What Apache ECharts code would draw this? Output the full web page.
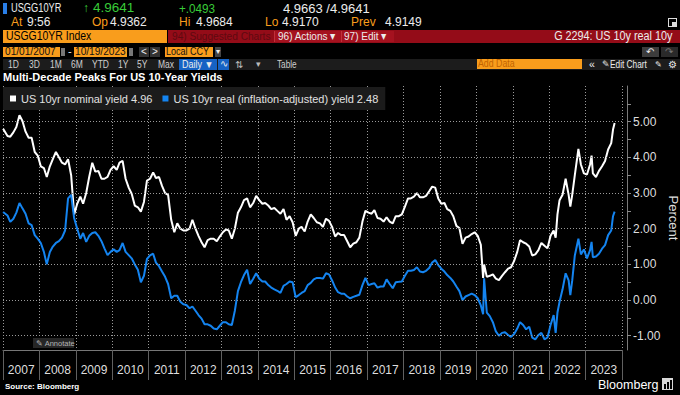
<!DOCTYPE html>
<html><head><meta charset="utf-8">
<script src="https://cdn.jsdelivr.net/npm/echarts@6/dist/echarts.min.js"></script>
<style>
html,body{margin:0;padding:0;background:#000;width:680px;height:395px;overflow:hidden;}
#chart{position:absolute;left:0;top:0;width:680px;height:395px;}
#hdr{position:absolute;left:0;top:0;width:680px;height:395px;pointer-events:none;}
</style></head><body>
<div id="chart"></div>
<div id="hdr"></div>
<script>
// ---------------- DATA ----------------
const dates = [
 '2007-01-02','2007-02-15','2007-03-15','2007-04-15','2007-05-15','2007-06-15','2007-07-15','2007-08-15','2007-09-15','2007-10-15','2007-11-15','2007-12-15',
 '2008-01-15','2008-02-15','2008-03-15','2008-04-15','2008-05-15','2008-06-15','2008-07-15','2008-08-15','2008-09-15','2008-10-15','2008-11-15','2008-12-15',
 '2009-01-15','2009-02-15','2009-03-15','2009-04-15','2009-05-15','2009-06-15','2009-07-15','2009-08-15','2009-09-15','2009-10-15','2009-11-15','2009-12-15',
 '2010-01-15','2010-02-15','2010-03-15','2010-04-15','2010-05-15','2010-06-15','2010-07-15','2010-08-15','2010-09-15','2010-10-15','2010-11-15','2010-12-15',
 '2011-01-15','2011-02-15','2011-03-15','2011-04-15','2011-05-15','2011-06-15','2011-07-15','2011-08-15','2011-09-15','2011-10-15','2011-11-15','2011-12-15',
 '2012-01-15','2012-02-15','2012-03-15','2012-04-15','2012-05-15','2012-06-15','2012-07-15','2012-08-15','2012-09-15','2012-10-15','2012-11-15','2012-12-15',
 '2013-01-15','2013-02-15','2013-03-15','2013-04-15','2013-05-15','2013-06-15','2013-07-15','2013-08-15','2013-09-15','2013-10-15','2013-11-15','2013-12-15',
 '2014-01-15','2014-02-15','2014-03-15','2014-04-15','2014-05-15','2014-06-15','2014-07-15','2014-08-15','2014-09-15','2014-10-15','2014-11-15','2014-12-15',
 '2015-01-15','2015-02-15','2015-03-15','2015-04-15','2015-05-15','2015-06-15','2015-07-15','2015-08-15','2015-09-15','2015-10-15','2015-11-15','2015-12-15',
 '2016-01-15','2016-02-15','2016-03-15','2016-04-15','2016-05-15','2016-06-15','2016-07-15','2016-08-15','2016-09-15','2016-10-15','2016-11-15','2016-12-15',
 '2017-01-15','2017-02-15','2017-03-15','2017-04-15','2017-05-15','2017-06-15','2017-07-15','2017-08-15','2017-09-15','2017-10-15','2017-11-15','2017-12-15',
 '2018-01-15','2018-02-15','2018-03-15','2018-04-15','2018-05-15','2018-06-15','2018-07-15','2018-08-15','2018-09-15','2018-10-15','2018-11-15','2018-12-15',
 '2019-01-15','2019-02-15','2019-03-15','2019-04-15','2019-05-15','2019-06-15','2019-07-15','2019-08-15','2019-09-15','2019-10-15','2019-11-15','2019-12-15',
 '2020-01-15','2020-02-15','2020-03-09','2020-03-19','2020-04-15','2020-05-15','2020-06-15','2020-07-15','2020-08-15','2020-09-15','2020-10-15','2020-11-15','2020-12-15',
 '2021-01-15','2021-02-15','2021-03-15','2021-04-15','2021-05-15','2021-06-15','2021-07-15','2021-08-15','2021-09-15','2021-10-15','2021-11-15','2021-12-15',
 '2022-01-15','2022-02-15','2022-03-07','2022-03-25','2022-04-15','2022-05-15','2022-06-15','2022-07-15','2022-08-01','2022-08-20','2022-09-15','2022-10-21','2022-11-15','2022-12-15',
 '2023-01-15','2023-02-15','2023-03-02','2023-03-15','2023-04-15','2023-05-15','2023-06-15','2023-07-15','2023-08-15','2023-09-15','2023-10-03','2023-10-19'
];
const nominal = [
 4.80,4.60,4.58,4.70,4.85,5.18,5.02,4.72,4.55,4.55,4.15,4.05,
 3.75,3.70,3.45,3.75,3.95,4.15,4.00,3.85,3.80,3.95,3.50,2.40,
 2.70,2.90,2.70,3.00,3.45,3.85,3.60,3.62,3.40,3.40,3.45,3.65,
 3.75,3.65,3.85,3.90,3.40,3.15,2.98,2.65,2.60,2.48,2.75,3.35,
 3.40,3.58,3.42,3.45,3.20,3.00,2.95,2.25,1.90,2.15,2.00,1.95,
 1.95,2.00,2.25,2.00,1.80,1.62,1.48,1.68,1.72,1.72,1.65,1.78,
 1.90,1.98,1.95,1.72,2.00,2.45,2.60,2.80,2.85,2.60,2.72,2.92,
 2.80,2.70,2.72,2.65,2.55,2.58,2.50,2.42,2.55,2.25,2.35,2.18,
 1.80,2.00,2.05,1.92,2.20,2.40,2.30,2.18,2.15,2.05,2.28,2.22,
 2.05,1.78,1.88,1.82,1.82,1.65,1.48,1.58,1.62,1.75,2.20,2.50,
 2.45,2.42,2.52,2.30,2.28,2.20,2.32,2.20,2.15,2.35,2.35,2.40,
 2.62,2.85,2.85,2.90,3.00,2.88,2.88,2.92,3.05,3.18,3.15,2.85,
 2.70,2.72,2.55,2.50,2.35,2.08,2.02,1.58,1.75,1.78,1.85,1.90,
 1.80,1.55,0.62,1.00,0.65,0.68,0.72,0.60,0.56,0.68,0.78,0.88,0.92,
 1.10,1.35,1.68,1.62,1.58,1.50,1.25,1.28,1.40,1.60,1.52,1.45,
 1.80,1.95,1.75,2.40,2.80,2.95,3.40,2.95,2.62,2.95,3.50,4.24,3.80,3.55,
 3.52,3.80,4.05,3.55,3.45,3.62,3.75,3.90,4.22,4.40,4.78,4.96
];
const real = [
 2.47,2.37,2.19,2.28,2.45,2.72,2.57,2.42,2.15,2.10,1.82,1.72,
 1.60,1.35,1.00,1.35,1.50,1.60,1.65,1.75,1.95,2.85,2.95,2.30,
 2.00,1.72,1.88,1.63,1.80,1.88,1.90,1.80,1.65,1.45,1.26,1.35,
 1.42,1.35,1.40,1.60,1.35,1.26,1.17,1.00,0.85,0.50,0.68,1.15,
 1.25,1.30,1.05,0.95,0.80,0.65,0.45,0.05,0.12,0.12,-0.05,-0.12,
 -0.14,-0.23,-0.18,-0.30,-0.42,-0.52,-0.68,-0.68,-0.72,-0.80,-0.82,-0.72,
 -0.62,-0.62,-0.68,-0.70,-0.30,0.25,0.50,0.70,0.85,0.45,0.60,0.75,
 0.60,0.52,0.52,0.42,0.35,0.30,0.26,0.20,0.40,0.45,0.52,0.50,
 0.08,0.14,0.20,0.25,0.42,0.48,0.58,0.62,0.62,0.60,0.75,0.72,
 0.55,0.35,0.22,0.18,0.18,0.10,0.05,0.09,0.12,0.15,0.42,0.62,
 0.42,0.45,0.47,0.35,0.38,0.38,0.58,0.45,0.33,0.50,0.51,0.52,
 0.68,0.82,0.82,0.84,0.92,0.80,0.78,0.82,0.90,1.05,1.12,0.98,
 0.88,0.80,0.70,0.62,0.52,0.38,0.25,0.00,0.10,0.14,0.18,0.14,
 0.05,-0.15,-0.40,0.61,-0.35,-0.45,-0.62,-0.88,-1.00,-0.92,-0.90,-0.98,-1.03,
 -0.95,-0.80,-0.62,-0.70,-0.82,-0.75,-1.05,-1.10,-0.98,-0.92,-1.10,-1.05,
 -0.70,-0.42,-0.92,-0.35,-0.05,0.30,0.75,0.55,0.14,0.55,1.25,1.72,1.28,1.42,
 1.17,1.40,1.63,1.20,1.22,1.30,1.44,1.54,1.82,1.95,2.35,2.48
];
const seriesNames = ['US 10yr nominal yield', 'US 10yr real (inflation-adjusted) yield'];
const yearLabels = ['2007','2008','2009','2010','2011','2012','2013','2014','2015','2016','2017','2018','2019','2020','2021','2022','2023'];
const yearBounds = [2007,2008,2009,2010,2011,2012,2013,2014,2015,2016,2017,2018,2019,2020,2021,2022,2023,2024];
const yLabelValues = [-1, 0, 1, 2, 3, 4, 5];
const yTickValues = [-1, -0.5, 0, 0.5, 1, 1.5, 2, 2.5, 3, 3.5, 4, 4.5, 5, 5.5];

// ---------------- CHART ----------------
const REG = '"Liberation Sans", Arial, sans-serif';
function toYear(s){
  const p = s.split('-').map(Number);
  const t0 = Date.UTC(p[0],0,1), t1 = Date.UTC(p[0]+1,0,1);
  return p[0] + (Date.UTC(p[0],p[1]-1,p[2]) - t0) / (t1 - t0);
}
const xs = dates.map(toYear);
const lastVals = [nominal[nominal.length-1], real[real.length-1]];
const GRID_COLOR = '#9a9a9a';

const chart = echarts.init(document.getElementById('chart'), null, {renderer:'svg', width:680, height:395});
chart.setOption({
  animation: false,
  backgroundColor: '#000',
  grid: {left: 3, right: 58, top: 86, bottom: 45, containLabel: false, outerBoundsMode: 'none', show: false},
  legend: {
    left: 3, top: 87,
    data: seriesNames,
    backgroundColor: '#1b1b1b',
    padding: [6, 7, 6, 7],
    itemGap: 10, itemWidth: 6, itemHeight: 6, icon: 'rect',
    textStyle: {color: '#e2e2e2', fontSize: 11, fontFamily: REG},
    formatter: function(name){ return name + ' ' + lastVals[seriesNames.indexOf(name)].toFixed(2); },
    selectedMode: false
  },
  xAxis: {
    type: 'value', min: 2007, max: 2024, interval: 1,
    axisLine: {show: true, onZero: false, lineStyle: {color: '#777777', width: 1}},
    axisTick: {show: true, length: 30, customValues: yearBounds, lineStyle: {color: '#606060', width: 1}},
    splitLine: {show: true, lineStyle: {color: GRID_COLOR, type: [1, 2], width: 1}},
    axisLabel: {
      customValues: yearLabels.map(function(y){ return Number(y) + 0.5; }),
      formatter: function(v){ return String(Math.floor(v)); },
      color: '#dedede', fontSize: 12, fontFamily: REG, margin: 14
    }
  },
  yAxis: {
    type: 'value', position: 'right', offset: 5, min: -1.4, max: 6.0,
    axisLine: {show: true, onZero: false, lineStyle: {color: '#7a7a7a'}},
    axisTick: {show: true, customValues: yTickValues, length: 4, lineStyle: {color: '#8a8a8a'}},
    axisLabel: {customValues: yLabelValues, formatter: function(v){ return v.toFixed(2); },
      color: '#dedede', fontSize: 12, fontFamily: REG, margin: 6},
    splitLine: {show: false},
    name: 'Percent', nameLocation: 'middle', nameRotate: -90, nameGap: 40, nameMoveOverlap: false,
    nameTextStyle: {color: '#dedede', fontSize: 13, fontFamily: REG}
  },
  series: [
    {
      name: 'gridlines', type: 'line', z: 1, silent: true, showSymbol: false, symbol: 'none',
      lineStyle: {opacity: 0}, tooltip: {show: false},
      data: xs.map(function(x, i){ return [x, nominal[i]]; }),
      markLine: {
        silent: true, symbol: ['none','none'], label: {show: false}, animation: false,
        lineStyle: {color: GRID_COLOR, type: [1, 2], width: 1, opacity: 1},
        emphasis: {disabled: true},
        data: yLabelValues.map(function(v){ return {yAxis: v}; })
      }
    },
    {
      name: seriesNames[0], type: 'line', z: 3, showSymbol: false, symbol: 'none',
      color: '#ffffff', lineStyle: {color: '#ffffff', width: 2},
      data: xs.map(function(x, i){ return [x, nominal[i]]; })
    },
    {
      name: seriesNames[1], type: 'line', z: 3, showSymbol: false, symbol: 'none',
      color: '#1484f0', lineStyle: {color: '#1484f0', width: 2},
      data: xs.map(function(x, i){ return [x, real[i]]; })
    }
  ]
});

// ---------------- TERMINAL CHROME ----------------
const hdr = document.getElementById('hdr');
const ORANGE = '#f99d1c', GREEN = '#38cc38', WHITE = '#ececec';
function R(x, y, w, h, bg, extra){
  const d = document.createElement('div');
  d.style.cssText = 'position:absolute;left:'+x+'px;top:'+y+'px;width:'+w+'px;height:'+h+'px;background:'+bg+';'+(extra||'');
  hdr.appendChild(d); return d;
}
function T(txt, x, cy, size, color, opt){
  opt = opt || {};
  const d = document.createElement('div');
  d.textContent = txt;
  let css = 'position:absolute;top:'+(cy - size*0.6)+'px;font-size:'+size+'px;line-height:'+(size*1.2)+'px;color:'+color+
    ';white-space:nowrap;font-family:'+REG+';font-weight:'+(opt.b?'bold':'normal')+';';
  if (opt.right) css += 'right:'+(680-x)+'px;'; else css += 'left:'+x+'px;';
  if (opt.sx) css += 'transform:scaleX('+opt.sx+');transform-origin:'+(opt.right?'right':'left')+' center;';
  d.style.cssText = css;
  hdr.appendChild(d); return d;
}
// row 1
R(3, 3, 4, 11, '#2a7fe8');
T('USGG10YR', 11, 8.5, 12.5, WHITE, {sx: 0.74});
T('\u2191', 83, 8.5, 12, GREEN);
T('4.9641', 93, 8.5, 13.5, GREEN);
T('+.0493', 179, 8.5, 13, GREEN, {sx: 0.9});
T('4.9663 /4.9641', 283, 8.5, 13, WHITE);
// row 2
T('At', 11, 22.5, 12, ORANGE);
T('9:56', 27, 22.5, 12, WHITE);
T('Op', 92, 22.5, 12, ORANGE);
T('4.9362', 110, 22.5, 12, WHITE);
T('Hi', 179, 22.5, 12, ORANGE);
T('4.9684', 196, 22.5, 12, WHITE);
T('Lo', 265, 22.5, 12, ORANGE);
T('4.9170', 282, 22.5, 12, WHITE);
T('Prev', 351, 22.5, 12, ORANGE);
T('4.9149', 385, 22.5, 12, WHITE);
R(668, 18, 7, 7, 'transparent', 'border:1px solid #ddd;');
R(672, 22, 5, 5, '#ddd');
// row 3
R(3, 30, 164, 13, ORANGE);
T('USGG10YR Index', 6, 36.5, 12, '#000', {sx: 0.87});
R(168, 30, 512, 13, '#940c18');
T('94) Suggested Charts', 172, 36.5, 11.5, '#5e0a10', {sx: 0.88});
R(274, 31, 66, 11, '#a5121f', 'border-left:1px solid #c0303a;');
T('96) Actions \u25BE', 278, 36.5, 11.5, WHITE, {sx: 0.87});
R(341, 31, 52, 11, '#a5121f', 'border-left:1px solid #c0303a;');
T('97) Edit \u25BE', 344, 36.5, 11.5, WHITE, {sx: 0.87});
T('G 2294: US 10y real 10y', 672, 36.5, 12, WHITE, {right: true, sx: 0.9});
// row 4
R(3, 47, 57, 10, ORANGE); T('01/01/2007', 5, 52, 11, '#111', {sx: 0.92});
R(61, 48, 4, 8, '#777');
T('-', 68, 52, 11, WHITE);
R(74, 47, 53, 10, ORANGE); T('10/19/2023', 75, 52, 11, '#111', {sx: 0.92});
R(129, 48, 4, 8, '#777');
R(139, 47, 10, 10, '#333'); T('<', 141, 52, 10, WHITE);
R(150, 47, 10, 10, '#333'); T('>', 152, 52, 10, WHITE);
R(165, 47, 48, 10, ORANGE); T('Local CCY', 166, 52, 11, '#111', {sx: 0.82});
R(215, 47, 6, 10, '#444'); T('\u25BE', 215.5, 52, 8, WHITE);
R(642, 47, 17, 10, '#3c3c3c'); T('\u21B6', 646, 52, 10, WHITE);
R(661, 47, 17, 10, '#2a2a2a'); T('\u21B7', 665, 52, 10, '#777');
// row 5
R(3, 59, 677, 11, '#1c1c1c');
[['1D',8],['3D',29],['1M',50],['6M',71],['YTD',92],['1Y',118],['5Y',137],['Max',158]].forEach(function(b){ T(b[0], b[1], 64.5, 10, '#cfcfcf', {sx: 0.85}); });
R(179, 59, 38, 11, '#1662c4'); T('Daily \u25BC', 182, 64.5, 10, WHITE, {sx: 0.9});
R(218, 59, 11, 11, '#1662c4'); T('\u223F', 219.5, 64, 10, WHITE);
T('\u21C5', 235, 64.5, 10, '#bbb');
T('\u25BE', 256, 64.5, 9, '#bbb');
T('Table', 277, 64.5, 10, '#cfcfcf', {sx: 0.82});
R(477, 59, 105, 10, ORANGE); T('Add Data', 478, 64, 10, '#c26400', {sx: 0.88});
T('\u00AB', 589, 64, 10.5, WHITE);
T('\u270E', 602, 64.5, 9, WHITE);
T('Edit Chart', 610, 64.5, 10, WHITE, {sx: 0.83});
T('\u270E', 655, 64.5, 8, WHITE);
T('\u2699', 668, 64.5, 10, WHITE);
// title
T('Multi-Decade Peaks For US 10-Year Yields', 3, 77.5, 11, '#ffffff', {b: true});
// annotate button
R(33, 338, 41, 10, '#262626');
T('\u270E Annotate', 36, 343, 7.5, '#b5b5b5');
// footer
T('Source: Bloomberg', 5, 386.5, 8, '#ffffff', {b: true});
T('Bloomberg', 598, 385, 12.5, '#ffffff');
R(662, 378, 11, 12, '#d8d8d8');
R(664, 384, 2, 5, '#000'); R(667, 382, 2, 7, '#000'); R(670, 380, 2, 9, '#000');
</script>
</body></html>
